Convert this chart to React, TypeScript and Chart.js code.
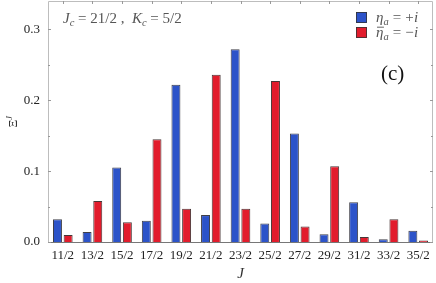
import React, { useEffect, useRef } from "react";
import { Chart, registerables } from "chart.js";

Chart.register(...registerables);

const categories = ["11/2", "13/2", "15/2", "17/2", "19/2", "21/2", "23/2", "25/2", "27/2", "29/2", "31/2", "33/2", "35/2"];
const etaPlus = [0.032, 0.014, 0.105, 0.030, 0.222, 0.038, 0.272, 0.026, 0.153, 0.011, 0.056, 0.004, 0.016];
const etaMinus = [0.010, 0.058, 0.028, 0.145, 0.047, 0.236, 0.047, 0.227, 0.022, 0.107, 0.007, 0.032, 0.002];
const yMajorTicks = [0, 0.1, 0.2, 0.3];
const yMinorTicks = [0.05, 0.15, 0.25];
const seriesLabels = ["η_a = +i", "η̄_a = −i"];

const BLUE = "#2c53c9";
const RED = "#e21c2c";
const SERIF = "'Liberation Serif', 'DejaVu Serif', serif";

type Seg = { t: string; italic?: boolean; sub?: boolean; sup?: boolean; bar?: boolean; gap?: number };

function drawRich(ctx: CanvasRenderingContext2D, x: number, y: number, segs: Seg[], size: number, color: string) {
  let cx = x;
  ctx.fillStyle = color;
  ctx.strokeStyle = color;
  ctx.textBaseline = "alphabetic";
  ctx.textAlign = "left";
  for (const s of segs) {
    if (s.gap) { cx += s.gap; continue; }
    const sz = s.sub || s.sup ? size * 0.7 : size;
    ctx.font = `${s.italic ? "italic " : ""}${sz}px ${SERIF}`;
    const dy = s.sub ? size * 0.22 : s.sup ? -size * 0.42 : 0;
    ctx.fillText(s.t, cx, y + dy);
    const w = ctx.measureText(s.t).width;
    if (s.bar) {
      ctx.lineWidth = 0.9;
      ctx.beginPath();
      ctx.moveTo(cx + 1, y - size * 0.62);
      ctx.lineTo(cx + w + 0.5, y - size * 0.62);
      ctx.stroke();
    }
    cx += w;
  }
  return cx - x;
}

const decorPlugin = {
  id: "decor",
  afterDraw(chart: any) {
    const { ctx, chartArea: a, scales } = chart;
    const y = scales.y;
    const x = scales.x;
    ctx.save();
    // frame
    ctx.lineWidth = 1;
    ctx.strokeStyle = "#bdbdbd";
    ctx.beginPath();
    ctx.moveTo(a.left + 0.5, a.bottom);
    ctx.lineTo(a.left + 0.5, a.top + 0.5);
    ctx.lineTo(a.right - 0.5, a.top + 0.5);
    ctx.lineTo(a.right - 0.5, a.bottom);
    ctx.stroke();
    ctx.strokeStyle = "#777";
    ctx.beginPath();
    ctx.moveTo(a.left, a.bottom + 0.5);
    ctx.lineTo(a.right, a.bottom + 0.5);
    ctx.stroke();
    // ticks
    ctx.strokeStyle = "#999";
    const tick = (v: number, len: number) => {
      const py = Math.round(y.getPixelForValue(v)) + 0.5;
      ctx.beginPath();
      ctx.moveTo(a.left, py);
      ctx.lineTo(a.left + len, py);
      ctx.moveTo(a.right, py);
      ctx.lineTo(a.right - len, py);
      ctx.stroke();
    };
    yMajorTicks.forEach((v) => tick(v, 3));
    yMinorTicks.forEach((v) => tick(v, 2));
    categories.forEach((_, i) => {
      const px = Math.round(x.getPixelForValue(i)) + 0.5;
      ctx.beginPath();
      ctx.moveTo(px, a.top);
      ctx.lineTo(px, a.top + 3);
      ctx.stroke();
    });

    // annotation
    drawRich(ctx, 63, 23, [
      { t: "J", italic: true }, { t: "c", italic: true, sub: true }, { t: " = 21/2 ,  " },
      { t: "K", italic: true }, { t: "c", italic: true, sub: true }, { t: " = 5/2" },
    ], 15, "#555");

    // legend
    const colors = [BLUE, RED];
    const rows = [12, 27];
    seriesLabels.forEach((lab, i) => {
      ctx.fillStyle = colors[i];
      ctx.fillRect(356, rows[i], 11, 11);
      ctx.strokeStyle = "#333";
      ctx.lineWidth = 0.8;
      ctx.strokeRect(356.5, rows[i] + 0.5, 10, 10);
      const [lhs, rhs] = lab.split("_");
      const base = lhs.replace("\u0304", "");
      const hasBar = lhs.includes("\u0304");
      const sub = rhs.split(" ")[0];
      const rest = rhs.slice(sub.length);
      const sign = rest.trim().split(" ")[1];
      drawRich(ctx, 376, rows[i] + 9.5, [
        { t: base, italic: true, bar: hasBar }, { t: sub, italic: true, sub: true },
        { gap: 4 }, { t: "=" }, { gap: 4 }, { t: sign.slice(0, 1) }, { gap: 0.5 }, { t: sign.slice(1), italic: true },
      ], 15, "#555");
    });

    // panel label
    ctx.fillStyle = "#111";
    ctx.font = `21px ${SERIF}`;
    ctx.textAlign = "left";
    ctx.textBaseline = "alphabetic";
    ctx.fillText("(c)", 381, 80);

    // axis titles
    ctx.font = `italic 15px ${SERIF}`;
    ctx.fillStyle = "#333";
    ctx.textAlign = "center";
    ctx.fillText("J", (a.left + a.right) / 2, 278);

    ctx.translate(17, (a.top + a.bottom) / 2 + 6);
    ctx.rotate(-Math.PI / 2);
    drawRich(ctx, 0, 0, [{ t: "Ξ" }, { t: "J", italic: true, sup: true }], 12, "#333");
    ctx.restore();
  },
};

export default function App() {
  const ref = useRef<HTMLCanvasElement | null>(null);
  useEffect(() => {
    if (!ref.current) return;
    const chart = new Chart(ref.current, {
      type: "bar",
      data: {
        labels: categories,
        datasets: [
          { label: seriesLabels[0], data: etaPlus, backgroundColor: BLUE, borderColor: "rgba(30,30,40,0.85)", borderWidth: 1, categoryPercentage: 0.72, barPercentage: 0.84 },
          { label: seriesLabels[1], data: etaMinus, backgroundColor: RED, borderColor: "rgba(40,20,20,0.85)", borderWidth: 1, categoryPercentage: 0.72, barPercentage: 0.84 },
        ],
      },
      options: {
        animation: false,
        responsive: true,
        maintainAspectRatio: false,
        layout: { padding: { top: 1, right: 3, left: 0, bottom: 0 } },
        plugins: { legend: { display: false }, tooltip: { enabled: false } },
        scales: {
          x: {
            grid: { display: false, drawTicks: false },
            border: { display: false },
            ticks: { color: "#222", font: { family: SERIF, size: 13 }, padding: 6, maxRotation: 0, autoSkip: false },
            afterFit: (s: any) => { s.height = 41; s.paddingLeft = 0; s.paddingRight = 0; },
          },
          y: {
            min: 0,
            max: 0.34,
            grid: { display: false, drawTicks: false },
            border: { display: false },
            ticks: {
              stepSize: 0.1,
              includeBounds: false,
              color: "#222",
              font: { family: SERIF, size: 13 },
              padding: 8,
              callback: (v: any) => Number(v).toFixed(1),
            },
            afterFit: (s: any) => { s.width = 48; s.paddingTop = 0; s.paddingBottom = 0; },
          },
        },
      },
      plugins: [decorPlugin],
    });
    return () => chart.destroy();
  }, []);
  return (
    <div style={{ position: "absolute", left: 0, top: 0, width: 436, height: 283, background: "#fff" }}>
      <canvas ref={ref} />
    </div>
  );
}
